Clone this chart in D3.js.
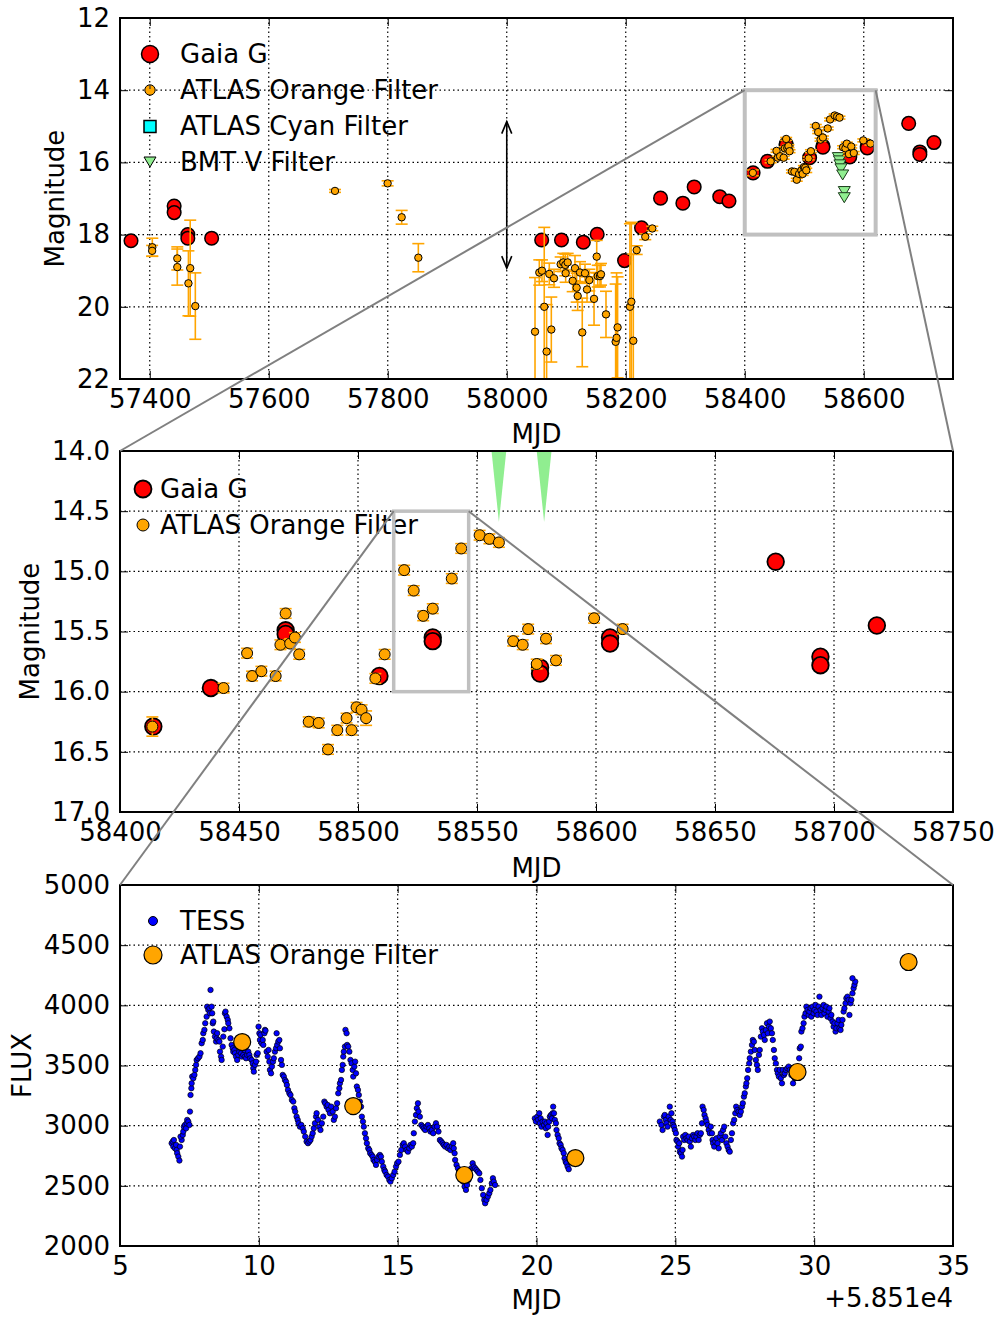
<!DOCTYPE html>
<html><head><meta charset="utf-8">
<script src="https://cdn.jsdelivr.net/npm/d3@7"></script>
<style>body{margin:0;background:#fff}</style>
</head><body><svg id="c" width="997" height="1317"></svg>
<script>
// ---------------- DATA ----------------
// Gaia G: [MJD, mag]
const gaia = [[57368.5,18.17],[57441,17.21],[57441,17.39],[57464,18.00],[57464,18.10],[57504,18.10],
[58058.7,18.15],[58092,18.15],[58128.7,18.21],[58152,17.99],[58198,18.72],[58226.5,17.81],[58258.5,16.99],
[58296,17.13],[58315,16.68],[58358,16.95],[58373.5,17.07],[58414,16.29],[58438.2,15.97],[58469.6,15.49],
[58469.6,15.52],[58509,15.87],[58531.4,15.55],[58531.4,15.58],[58576.5,15.80],[58576.5,15.85],[58605.9,15.55],
[58605.9,15.60],[58675.5,14.92],[58694.3,15.71],[58694.3,15.78],[58718,15.45]];
// ATLAS orange: [MJD, mag, err]
const atlas = [[57404.3,18.35,0.25],[57404.0,18.45,0.15],[57446.3,18.66,0.32],[57446.3,18.90,0.50],[57468.0,18.93,1.33],
[57465.0,19.35,0.90],[57476.6,19.98,0.92],[57711.3,16.79,0.04],[57799.8,16.58,0.07],[57823.4,17.52,0.19],[57851.4,18.64,0.39],
[58047.5,20.69,1.50],[58054.7,19.05,0.35],[58059.2,19.00,0.30],[58063.0,20.00,2.20],[58067.0,21.24,1.30],[58071.5,19.09,0.30],
[58074.9,20.63,0.90],[58079.4,19.21,0.25],[58090.6,18.82,0.20],[58095.0,18.77,0.25],[58098.4,18.84,0.30],[58102.4,18.77,0.25],
[58099.0,19.07,0.25],[58110.8,19.28,0.30],[58114.7,18.93,0.35],[58117.5,19.47,0.40],[58119.2,19.70,0.40],[58123.1,19.05,0.30],
[58126.9,20.71,0.95],[58131.5,19.07,0.25],[58134.9,19.52,0.35],[58138.8,19.26,0.30],[58146.7,19.78,0.73],[58151.2,18.61,0.45],
[58152.9,19.15,0.30],[58156.7,19.15,0.30],[58158.4,19.10,0.30],[58166.8,20.21,0.64],[58183.0,20.97,1.60],[58184.6,20.86,1.80],
[58186.3,20.57,1.40],[58207.0,20.00,2.30],[58209.4,19.86,2.20],[58212.7,20.94,2.40],[58218.4,18.43,0.12],[58232.8,18.06,0.08],
[58244.6,17.83,0.06],
[58413.6,16.29,0.08],[58443.5,15.97,0.04],[58453.4,15.68,0.04],[58455.5,15.87,0.04],[58459.4,15.83,0.04],[58465.4,15.87,0.04],
[58467.4,15.61,0.04],[58469.6,15.35,0.04],[58471.5,15.60,0.04],[58473.5,15.55,0.04],[58475.3,15.69,0.04],[58479.3,16.25,0.04],
[58483.5,16.26,0.04],[58487.4,16.48,0.04],[58491.3,16.32,0.04],[58495.2,16.22,0.04],[58497.3,16.32,0.04],[58499.4,16.13,0.04],
[58501.5,16.15,0.04],[58503.4,16.22,0.06],[58507.3,15.89,0.04],[58511.2,15.69,0.04],[58519.4,14.99,0.04],[58523.4,15.16,0.04],
[58527.4,15.37,0.04],[58531.4,15.31,0.04],[58539.4,15.06,0.04],[58543.4,14.81,0.04],[58551.1,14.70,0.04],[58555.2,14.73,0.04],
[58559.2,14.76,0.04],[58565.2,15.58,0.04],[58569.2,15.61,0.04],[58571.5,15.48,0.04],[58575.1,15.77,0.04],[58579.0,15.56,0.04],
[58583.2,15.74,0.04],[58599.2,15.39,0.04],[58611.2,15.48,0.04]];
// BMT V: [MJD, mag]
const bmt = [[58557.3,15.84],[58559.0,15.93],[58560.0,16.04],[58561.7,16.15],[58564.6,16.32],[58567.3,16.78],[58567.3,16.95]];
const bmtWedgeMJD = [58559.2, 58578.2];
const arrowMJD = 58000, arrowSpan = [14.87, 18.93];
// TESS: [MJD - 58510, flux]
const tess = [[6.86,2854],[6.90,2868],[6.94,2881],[6.92,2826],[6.98,2812],[7.02,2840],[7.04,2798],[7.06,2771],[7.10,2743],[7.14,2710],
[7.16,2826],[7.22,2881],[7.18,2909],[7.26,2923],[7.28,2951],[7.30,2992],[7.34,3006],[7.38,2978],[7.40,3020],[7.42,3048],[7.46,3034],
[7.50,3006],[7.52,3117],[7.54,3255],[7.57,3311],[7.58,3352],[7.60,3408],[7.64,3394],[7.68,3422],[7.71,3463],[7.74,3505],[7.76,3546],
[7.81,3560],[7.86,3574],[7.90,3602],[7.94,3685],[7.98,3712],[8.00,3768],[8.04,3796],[8.07,3851],[8.12,3906],[8.14,3989],[8.18,3962],
[8.22,3976],[8.24,3934],[8.26,4128],[8.30,3989],[8.32,3934],[8.34,3851],[8.36,3865],[8.38,3782],[8.42,3740],[8.46,3699],[8.48,3726],
[8.50,3768],[8.54,3712],[8.58,3699],[8.60,3615],[8.64,3574],[8.66,3546],[8.70,3657],[8.72,3740],[8.76,3801],[8.78,3934],[8.80,3948],
[8.84,3906],[8.88,3879],[8.90,3851],[8.94,3809],[8.98,3726],[9.02,3671],[9.06,3643],[9.08,3615],[9.12,3629],[9.14,3602],[9.18,3574],
[9.22,3546],[9.26,3588],[9.30,3615],[9.32,3657],[9.36,3602],[9.39,3574],[9.44,3588],[9.48,3629],[9.50,3574],[9.54,3560],[9.58,3588],
[9.62,3615],[9.66,3588],[9.69,3560],[9.74,3546],[9.78,3518],[9.80,3477],[9.82,3449],[9.86,3505],[9.90,3532],[9.92,3588],[9.96,3602],
[9.99,3823],[10.02,3768],[10.04,3712],[10.06,3754],[10.10,3685],[10.14,3712],[10.16,3671],[10.20,3768],[10.22,3796],[10.24,3790],
[10.28,3615],[10.32,3574],[10.35,3629],[10.38,3532],[10.40,3463],[10.44,3435],[10.47,3491],[10.51,3532],[10.54,3560],[10.58,3615],
[10.62,3643],[10.64,3768],[10.66,3671],[10.70,3699],[10.74,3712],[10.76,3643],[10.80,3546],[10.83,3505],[10.86,3422],[10.90,3408],
[10.94,3380],[10.98,3366],[11.01,3338],[11.05,3297],[11.10,3269],[11.14,3255],[11.19,3214],[11.24,3200],[11.28,3145],[11.31,3117],
[11.36,3075],[11.40,3048],[11.43,3020],[11.48,2992],[11.53,3006],[11.58,2978],[11.62,2951],[11.67,2909],[11.72,2868],[11.77,2854],
[11.82,2868],[11.86,2881],[11.90,2909],[11.94,2937],[11.98,2978],[12.02,3020],[12.06,3075],[12.08,3103],[12.13,3048],[12.18,2992],
[12.22,2964],[12.27,3020],[12.32,3075],[12.36,3200],[12.39,3186],[12.44,3158],[12.48,3172],[12.51,3131],[12.56,3103],[12.61,3158],
[12.66,3117],[12.70,3048],[12.74,3075],[12.78,3145],[12.82,3186],[12.86,3269],[12.90,3311],[12.92,3352],[12.96,3380],[12.99,3463],
[13.02,3505],[13.04,3574],[13.06,3615],[13.10,3657],[13.12,3796],[13.16,3768],[13.18,3671],[13.22,3657],[13.26,3615],[13.30,3546],
[13.34,3518],[13.38,3463],[13.40,3408],[13.44,3491],[13.47,3532],[13.50,3435],[13.53,3325],[13.57,3297],[13.60,3255],[13.64,3200],
[13.68,3158],[13.71,3075],[13.75,3034],[13.78,2992],[13.82,2937],[13.86,2895],[13.89,2854],[13.94,2812],[13.98,2798],[14.01,2771],
[14.06,2757],[14.10,2743],[14.13,2715],[14.18,2701],[14.22,2674],[14.26,2715],[14.31,2743],[14.36,2757],[14.40,2743],[14.43,2701],
[14.48,2660],[14.52,2632],[14.55,2618],[14.60,2591],[14.65,2577],[14.70,2549],[14.74,2535],[14.79,2563],[14.84,2591],[14.89,2618],
[14.94,2660],[14.98,2688],[15.03,2701],[15.08,2757],[15.13,2798],[15.18,2840],[15.22,2854],[15.27,2826],[15.32,2798],[15.37,2784],
[15.42,2812],[15.46,2840],[15.51,2826],[15.56,2854],[15.58,2937],[15.62,3034],[15.66,3089],[15.69,3145],[15.73,3186],[15.75,3117],
[15.80,3075],[15.85,3006],[15.90,2992],[15.94,2978],[15.99,2964],[16.04,2992],[16.09,3006],[16.14,2978],[16.18,2951],[16.23,2964],
[16.28,2937],[16.33,2992],[16.38,3020],[16.42,2992],[16.47,2951],[16.52,2881],[16.57,2868],[16.62,2854],[16.66,2840],[16.71,2826],
[16.76,2840],[16.81,2812],[16.86,2826],[16.90,2798],[16.95,2826],[17.00,2854],[17.02,2812],[17.05,2771],[17.07,2715],[17.12,2674],
[17.17,2646],[17.22,2618],[17.26,2604],[17.31,2577],[17.36,2535],[17.41,2494],[17.46,2466],[17.50,2507],[17.55,2549],[17.60,2591],
[17.65,2646],[17.70,2688],[17.74,2660],[17.79,2646],[17.84,2632],[17.89,2618],[17.94,2604],[17.98,2549],[18.03,2480],[18.08,2424],
[18.12,2383],[18.15,2355],[18.20,2383],[18.25,2411],[18.30,2438],[18.34,2466],[18.39,2521],[18.43,2563],[18.46,2535],[18.51,2507],
[19.94,3061],[19.98,3034],[20.03,3075],[20.06,3048],[20.10,3103],[20.12,3020],[20.15,3061],[20.18,2992],[20.22,3034],[20.27,3006],
[20.30,3034],[20.34,2978],[20.36,3020],[20.40,2923],[20.42,2992],[20.46,3034],[20.48,3075],[20.52,3089],[20.56,3061],[20.58,3103],
[20.60,3158],[20.63,3103],[20.66,3048],[20.70,3020],[20.72,2964],[20.76,2923],[20.80,2895],[20.83,2854],[20.87,2840],[20.90,2812],
[20.94,2798],[20.98,2771],[21.01,2729],[21.05,2701],[21.08,2688],[21.12,2660],[21.16,2638],
[24.44,3034],[24.50,3006],[24.54,2964],[24.59,3075],[24.62,3089],[24.66,3048],[24.68,3020],[24.72,2992],[24.76,3075],[24.80,3158],
[24.83,3048],[24.86,3103],[24.90,3034],[24.92,3006],[24.95,2992],[24.98,2964],[25.02,2937],[25.04,2881],[25.08,2868],[25.10,2826],
[25.14,2854],[25.16,2784],[25.20,2771],[25.24,2743],[25.26,2798],[25.28,2909],[25.32,2881],[25.36,2923],[25.40,2895],[25.44,2881],
[25.48,2909],[25.52,2868],[25.56,2826],[25.60,2895],[25.64,2923],[25.68,2909],[25.72,2881],[25.76,2909],[25.80,2937],[25.84,2881],
[25.88,2923],[25.92,2937],[25.96,3020],[25.98,3158],[26.02,3131],[26.05,3089],[26.09,3061],[26.12,3034],[26.16,3006],[26.20,2964],
[26.24,2937],[26.28,2992],[26.32,2937],[26.34,2881],[26.36,2854],[26.40,2826],[26.44,2868],[26.48,2895],[26.52,2854],[26.56,2812],
[26.60,2909],[26.64,2937],[26.68,2881],[26.72,2964],[26.76,2992],[26.80,2909],[26.84,2854],[26.88,2826],[26.92,2798],[26.96,2784],
[27.00,2881],[27.04,2937],[27.08,3020],[27.12,3048],[27.16,3103],[27.19,3158],[27.23,3131],[27.28,3117],[27.32,3089],[27.36,3117],
[27.40,3158],[27.43,3186],[27.47,3241],[27.50,3269],[27.54,3325],[27.56,3352],[27.59,3394],[27.62,3463],[27.66,3518],[27.68,3560],
[27.72,3615],[27.76,3671],[27.79,3712],[27.83,3698],[27.86,3629],[27.90,3546],[27.94,3505],[27.97,3463],[28.01,3588],[28.04,3629],
[28.08,3740],[28.12,3809],[28.15,3782],[28.19,3754],[28.22,3712],[28.26,3795],[28.30,3851],[28.33,3768],[28.37,3823],[28.40,3865],
[28.44,3809],[28.48,3768],[28.51,3712],[28.55,3629],[28.58,3560],[28.62,3518],[28.66,3463],[28.69,3435],[28.73,3408],[28.76,3463],
[28.80,3394],[28.84,3352],[28.87,3463],[28.91,3421],[28.94,3435],[28.98,3463],[29.03,3477],[29.08,3491],[29.12,3463],[29.18,3421],
[29.24,3352],[29.30,3394],[29.36,3435],[29.42,3491],[29.46,3560],[29.48,3643],[29.52,3657],[29.54,3782],[29.58,3809],[29.62,3851],
[29.65,3906],[29.69,3934],[29.72,3989],[29.76,3962],[29.80,3920],[29.83,3948],[29.87,3976],[29.90,3906],[29.94,3989],[29.98,3934],
[30.01,3962],[30.05,4003],[30.08,3948],[30.12,3920],[30.16,3989],[30.19,4072],[30.23,3962],[30.26,3920],[30.30,3976],[30.34,4003],
[30.37,3934],[30.41,3962],[30.44,3989],[30.48,3906],[30.52,3948],[30.55,3976],[30.59,3892],[30.62,3920],[30.66,3865],[30.70,3823],
[30.73,3851],[30.77,3782],[30.80,3809],[30.84,3851],[30.88,3879],[30.91,3809],[30.95,3795],[30.98,3837],[31.02,3879],[31.06,3948],
[31.09,3976],[31.13,4017],[31.16,4059],[31.20,4072],[31.24,4045],[31.27,3920],[31.31,4017],[31.34,4045],[31.38,4100],[31.42,4142],
[31.45,4169],[31.48,4197],[31.38,4225]];
// ATLAS orange in flux units: [MJD - 58510, flux]
const atlasFlux = [[9.4,3695],[13.4,3163],[17.4,2590],[21.4,2731],[29.4,3446],[33.4,4360]];

// ticks
const topXTicks = [57400,57600,57800,58000,58200,58400,58600];
const topYTicks = [12,14,16,18,20,22];
const midXTicks = [58400,58450,58500,58550,58600,58650,58700,58750];
const midYTicks = [14.0,14.5,15.0,15.5,16.0,16.5,17.0];
const botXTicks = [5,10,15,20,25,30,35];
const botYTicks = [2000,2500,3000,3500,4000,4500,5000];

// --------------- DRAWING ---------------
const FONT = '"DejaVu Sans", sans-serif';
const FS = 26;
const svg = d3.select("#c");
svg.append("rect").attr("width",997).attr("height",1317).attr("fill","#fff");
const defs = svg.append("defs");

function panel(cfg){
  const g = svg.append("g");
  const x = d3.scaleLinear().domain(cfg.xd).range([cfg.x0,cfg.x1]);
  const y = d3.scaleLinear().domain(cfg.yd).range([cfg.y0,cfg.y1]);
  const grid = g.append("g").attr("stroke","#000").attr("stroke-width",1.2).attr("stroke-dasharray","1.5,3");
  grid.selectAll("line.gx").data(cfg.xt).join("line").attr("class","gx")
    .attr("x1",d=>x(d)).attr("x2",d=>x(d)).attr("y1",cfg.y0).attr("y2",cfg.y1);
  grid.selectAll("line.gy").data(cfg.yt).join("line").attr("class","gy")
    .attr("y1",d=>y(d)).attr("y2",d=>y(d)).attr("x1",cfg.x0).attr("x2",cfg.x1);
  defs.append("clipPath").attr("id","clip"+cfg.id).append("rect")
    .attr("x",cfg.x0).attr("y",cfg.y0).attr("width",cfg.x1-cfg.x0).attr("height",cfg.y1-cfg.y0);
  const data = g.append("g").attr("clip-path",`url(#clip${cfg.id})`);
  return {g,x,y,data,cfg};
}
function styleAxis(a){
  a.select(".domain").remove();
  a.attr("font-size",FS).attr("font-family",FONT).attr("color","#000");
  a.selectAll(".tick line").attr("stroke-width",1);
}
function axes(p, xfmt, yfmt, ylabel, ylx, xlabelY){
  const c = p.cfg;
  p.g.append("g").attr("transform",`translate(0,${c.y1})`)
    .call(d3.axisBottom(p.x).tickValues(c.xt).tickSize(-8).tickPadding(10.5).tickFormat(xfmt)).call(styleAxis);
  p.g.append("g").attr("transform",`translate(${c.x0},0)`)
    .call(d3.axisLeft(p.y).tickValues(c.yt).tickSize(-8).tickPadding(10).tickFormat(yfmt)).call(styleAxis);
  p.g.append("g").attr("transform",`translate(0,${c.y0})`)
    .call(d3.axisTop(p.x).tickValues(c.xt).tickSize(-8).tickFormat("")).call(styleAxis);
  p.g.append("g").attr("transform",`translate(${c.x1},0)`)
    .call(d3.axisRight(p.y).tickValues(c.yt).tickSize(-8).tickFormat("")).call(styleAxis);
  p.g.append("rect").attr("x",c.x0).attr("y",c.y0).attr("width",c.x1-c.x0).attr("height",c.y1-c.y0)
    .attr("fill","none").attr("stroke","#000").attr("stroke-width",2);
  p.g.append("text").attr("x",(c.x0+c.x1)/2).attr("y",xlabelY).attr("text-anchor","middle")
    .attr("font-size",FS).attr("font-family",FONT).text("MJD");
  p.g.append("text").attr("transform",`translate(${ylx},${(c.y0+c.y1)/2}) rotate(-90)`)
    .attr("text-anchor","middle").attr("dy","0.35em").attr("font-size",FS).attr("font-family",FONT).text(ylabel);
}
function legendText(g,x,y,t){
  g.append("text").attr("x",x).attr("y",y).attr("dy","0.35em").attr("font-size",FS).attr("font-family",FONT).text(t);
}
function errorbars(p, rows, cap){
  const eb = p.data.append("g").attr("stroke","#FFA500").attr("stroke-width",1.6);
  eb.selectAll("line.v").data(rows).join("line").attr("class","v")
    .attr("x1",d=>p.x(d[0])).attr("x2",d=>p.x(d[0])).attr("y1",d=>p.y(d[1]-d[2])).attr("y2",d=>p.y(d[1]+d[2]));
  eb.selectAll("line.c1").data(rows).join("line").attr("class","c1")
    .attr("x1",d=>p.x(d[0])-cap).attr("x2",d=>p.x(d[0])+cap).attr("y1",d=>p.y(d[1]-d[2])).attr("y2",d=>p.y(d[1]-d[2]));
  eb.selectAll("line.c2").data(rows).join("line").attr("class","c2")
    .attr("x1",d=>p.x(d[0])-cap).attr("x2",d=>p.x(d[0])+cap).attr("y1",d=>p.y(d[1]+d[2])).attr("y2",d=>p.y(d[1]+d[2]));
}
function circles(p, rows, r, fill, sw){
  p.data.append("g").selectAll("circle").data(rows).join("circle")
    .attr("cx",d=>p.x(d[0])).attr("cy",d=>p.y(d[1])).attr("r",r)
    .attr("fill",fill).attr("stroke","#000").attr("stroke-width",sw);
}

// ---- Panel 1 ----
const p1 = panel({id:1,x0:120,x1:953,y0:18,y1:379,xd:[57350,58750],yd:[12,22],xt:topXTicks,yt:topYTicks});
circles(p1, gaia, 6.8, "#ff0000", 1.5);
p1.data.append("g").selectAll("path").data(bmt).join("path")
  .attr("transform",d=>`translate(${p1.x(d[0])},${p1.y(d[1])})`)
  .attr("d","M-6,-4L6,-4L0,6Z").attr("fill","#90ee90").attr("stroke","#1a3a1a").attr("stroke-width",1);
errorbars(p1, atlas, 6);
circles(p1, atlas, 3.7, "#FFA500", 1);
// arrow
{
  const ax = p1.x(arrowMJD), ya = p1.y(arrowSpan[0]), yb = p1.y(arrowSpan[1]);
  const ag = p1.g.append("g").attr("stroke","#000").attr("stroke-width",1.6).attr("fill","none");
  ag.append("line").attr("x1",ax).attr("x2",ax).attr("y1",ya).attr("y2",yb);
  ag.append("path").attr("d",`M${ax-5},${ya+12}L${ax},${ya}L${ax+5},${ya+12}`);
  ag.append("path").attr("d",`M${ax-5},${yb-12}L${ax},${yb}L${ax+5},${yb-12}`);
}
axes(p1, d3.format("d"), d3.format("d"), "Magnitude", 55, 443);
{
  const lg = p1.g.append("g");
  lg.append("circle").attr("cx",150).attr("cy",54).attr("r",8.5).attr("fill","#ff0000").attr("stroke","#000").attr("stroke-width",1.5);
  legendText(lg,180,54,"Gaia G");
  lg.append("circle").attr("cx",150).attr("cy",90).attr("r",5.2).attr("fill","#FFA500").attr("stroke","#000").attr("stroke-width",1);
  lg.append("line").attr("x1",150).attr("x2",150).attr("y1",85).attr("y2",89).attr("stroke","#333").attr("stroke-width",1.2);
  legendText(lg,180,90,"ATLAS Orange Filter");
  lg.append("rect").attr("x",144).attr("y",120.5).attr("width",12).attr("height",12).attr("fill","#00ffff").attr("stroke","#000").attr("stroke-width",1.5);
  legendText(lg,180,126,"ATLAS Cyan Filter");
  lg.append("path").attr("d","M144,157L156,157L150,167Z").attr("fill","#90ee90").attr("stroke","#000").attr("stroke-width",1);
  legendText(lg,180,162,"BMT V Filter");
}

// ---- Panel 2 ----
const p2 = panel({id:2,x0:120,x1:953,y0:451,y1:812,xd:[58400,58750],yd:[14,17],xt:midXTicks,yt:midYTicks});
p2.data.append("g").selectAll("path").data(bmtWedgeMJD).join("path")
  .attr("d",m=>`M${p2.x(m-3.1)},${p2.y(14)}L${p2.x(m+3.1)},${p2.y(14)}L${p2.x(m)},${p2.y(14.59)}Z`)
  .attr("fill","#90ee90");
circles(p2, gaia, 8.3, "#ff0000", 1.8);
errorbars(p2, atlas, 6);
circles(p2, atlas, 5.5, "#FFA500", 1);
axes(p2, d3.format("d"), d3.format(".1f"), "Magnitude", 30, 877);
{
  const lg = p2.g.append("g");
  lg.append("circle").attr("cx",143).attr("cy",489).attr("r",8.5).attr("fill","#ff0000").attr("stroke","#000").attr("stroke-width",1.8);
  legendText(lg,160,489,"Gaia G");
  lg.append("circle").attr("cx",143).attr("cy",525).attr("r",6).attr("fill","#FFA500").attr("stroke","#000").attr("stroke-width",1);
  legendText(lg,160,525,"ATLAS Orange Filter");
}

// ---- Panel 3 ----
const p3 = panel({id:3,x0:120,x1:953,y0:885,y1:1246,xd:[5,35],yd:[5000,2000],xt:botXTicks,yt:botYTicks});
circles(p3, tess, 2.7, "#0000ff", 0.7);
circles(p3, atlasFlux, 8.5, "#FFA500", 1.2);
axes(p3, d3.format("d"), d3.format("d"), "FLUX", 22, 1309);
p3.g.append("text").attr("x",953).attr("y",1307).attr("text-anchor","end").attr("font-size",FS).attr("font-family",FONT).text("+5.851e4");
{
  const lg = p3.g.append("g");
  lg.append("circle").attr("cx",153).attr("cy",921).attr("r",4.5).attr("fill","#0000ff").attr("stroke","#000").attr("stroke-width",1);
  legendText(lg,180,921,"TESS");
  lg.append("circle").attr("cx",153).attr("cy",955).attr("r",9).attr("fill","#FFA500").attr("stroke","#000").attr("stroke-width",1.2);
  legendText(lg,180,955,"ATLAS Orange Filter");
}

// ---- zoom boxes and connector lines ----
const boxTop = {x:[58400,58620], y:[14,18]};
const boxMid = {x:[58515,58546.5], y:[14.5,16]};
svg.append("rect").attr("x",p1.x(boxTop.x[0])).attr("y",p1.y(boxTop.y[0]))
  .attr("width",p1.x(boxTop.x[1])-p1.x(boxTop.x[0])).attr("height",p1.y(boxTop.y[1])-p1.y(boxTop.y[0]))
  .attr("fill","none").attr("stroke","#c0c0c0").attr("stroke-width",4);
svg.append("rect").attr("x",p2.x(boxMid.x[0])).attr("y",p2.y(boxMid.y[0]))
  .attr("width",p2.x(boxMid.x[1])-p2.x(boxMid.x[0])).attr("height",p2.y(boxMid.y[1])-p2.y(boxMid.y[0]))
  .attr("fill","none").attr("stroke","#c0c0c0").attr("stroke-width",3.5);
const conn = svg.append("g").attr("stroke","#808080").attr("stroke-width",2);
conn.append("line").attr("x1",p1.x(boxTop.x[0])).attr("y1",p1.y(boxTop.y[0])).attr("x2",120).attr("y2",451);
conn.append("line").attr("x1",p1.x(boxTop.x[1])).attr("y1",p1.y(boxTop.y[0])).attr("x2",953).attr("y2",451);
conn.append("line").attr("x1",p2.x(boxMid.x[0])).attr("y1",p2.y(boxMid.y[0])).attr("x2",120).attr("y2",885);
conn.append("line").attr("x1",p2.x(boxMid.x[1])).attr("y1",p2.y(boxMid.y[0])).attr("x2",953).attr("y2",885);
</script></body></html>
